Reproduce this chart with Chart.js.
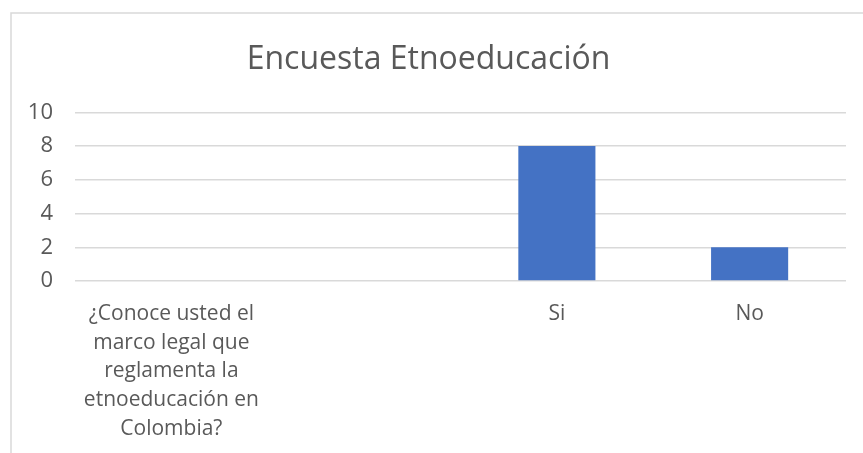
<!DOCTYPE html>
<html>
<head>
<meta charset="utf-8">
<script src="https://cdn.jsdelivr.net/npm/chart.js@4"></script>
<style>
html,body{margin:0;padding:0;background:#fff;}
#wrap{position:relative;width:863px;height:453px;}
</style>
</head>
<body>
<div id="wrap"><canvas id="c" width="863" height="453"></canvas></div>
<script>
const categories = [
  ["¿Conoce usted el", "marco legal que", "reglamenta la", "etnoeducación en", "Colombia?"],
  "",
  "Si",
  "No"
];
const seriesValues = [null, null, 8, 2];
const yTicks = [0, 2, 4, 6, 8, 10];
const titleText = "Encuesta Etnoeducación";

const textColor = "#595959";
const gridColor = "#d9d9d9";
const barColor = "#4472C4";
const FONT = "'Open Sans', 'Liberation Sans', sans-serif";

const borderPlugin = {
  id: 'outerBorder',
  beforeDraw(chart) {
    const ctx = chart.ctx;
    ctx.save();
    ctx.fillStyle = '#fff';
    ctx.fillRect(0, 0, chart.width, chart.height);
    ctx.strokeStyle = gridColor;
    ctx.lineWidth = 1.5;
    ctx.beginPath();
    ctx.moveTo(11, chart.height);
    ctx.lineTo(11, 13);
    ctx.lineTo(chart.width, 13);
    ctx.stroke();
    ctx.restore();
  }
};

new Chart(document.getElementById('c'), {
  type: 'bar',
  data: {
    labels: categories,
    datasets: [{
      label: 'Serie 1',
      data: seriesValues,
      backgroundColor: barColor,
      borderWidth: 0,
      barPercentage: 0.4,
      categoryPercentage: 1.0
    }]
  },
  options: {
    responsive: false,
    animation: false,
    layout: { padding: { left: 11, right: 17, top: 24, bottom: 0 } },
    plugins: {
      legend: { display: false },
      tooltip: { enabled: false },
      title: {
        display: true,
        text: titleText,
        color: textColor,
        font: { family: FONT, size: 32, weight: 'normal' },
        padding: { top: 17, bottom: 33 }
      }
    },
    scales: {
      x: {
        grid: { display: false, drawTicks: false },
        border: { display: false },
        ticks: {
          color: textColor,
          font: { family: FONT, size: 21, lineHeight: 1.36 },
          maxRotation: 0, minRotation: 0, autoSkip: false, padding: 19
        },
        afterFit(scale) { scale.height = 172; }
      },
      y: {
        min: 0, max: 10,
        afterBuildTicks(scale) { scale.ticks = yTicks.map(v => ({ value: v })); },
        grid: { color: gridColor, lineWidth: 1.5, drawTicks: false },
        border: { display: false },
        ticks: {
          color: textColor,
          font: { family: FONT, size: 22 },
          padding: 22
        },
        afterFit(scale) { scale.width = 64; }
      }
    }
  },
  plugins: [borderPlugin]
});
</script>
</body>
</html>
